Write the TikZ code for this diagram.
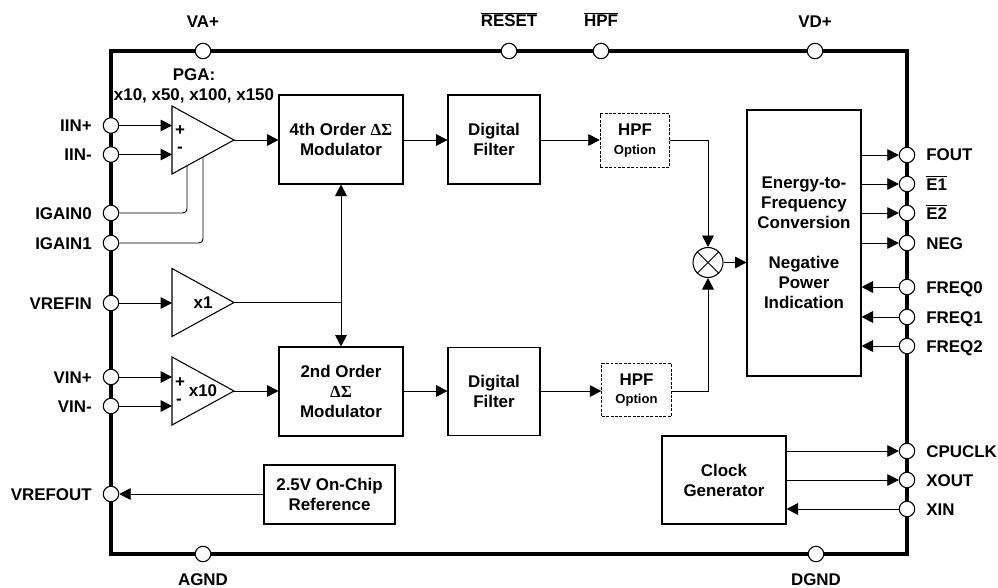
\documentclass[tikz,border=0pt]{standalone}
\usepackage{fontspec}
\setmainfont{Liberation Sans}
\newfontfamily\greekfont{Liberation Serif}
\usetikzlibrary{arrows.meta,shapes.geometric}
\tikzset{
	every node/.style={font=\fontsize{12.7}{15}\selectfont\bfseries, align=center},
	wire/.style={line width=0.7pt, -{Triangle[length=8.6pt,width=8.8pt]}},
	bareline/.style={line width=0.7pt},
	block/.style={draw, line width=0.8pt, inner sep=0pt},
	hpfbox/.style={draw, dashed, dash pattern=on 2.2pt off 1.1pt, line width=0.9pt, inner sep=0pt, minimum width=52pt, minimum height=40pt},
	amp/.style={draw, line width=0.8pt, isosceles triangle, isosceles triangle stretches, anchor=lower side, inner sep=0pt, outer sep=0pt, minimum width=51pt, minimum height=46.5pt},
	pin/.style={draw, circle, fill=white, line width=0.8pt, inner sep=0pt, minimum size=11.6pt},
	pinlabel/.style={inner sep=0pt, text height=9pt, text depth=0pt}
}
\newcommand{\dsig}{{\greekfont ΔΣ}}
\begin{document}
\begin{tikzpicture}[x=0.75pt,y=-0.75pt]
	\useasboundingbox (0,0) rectangle (998,588);

	%chip outline
	\node[draw, line width=2.6pt, inner sep=0pt, minimum width=597pt, minimum height=377.25pt] (chip) at (509,302.5){};

	%top and bottom pins
	\node[pin] (vap) at (203,51){};
	\node[pin] (reset) at (509,51){};
	\node[pin] (hpfpin) at (601,51){};
	\node[pin] (vdp) at (815,51){};
	\node[pin] (agnd) at (203,554){};
	\node[pin] (dgnd) at (816,554){};
	\node[pinlabel] at (203,22){VA+};
	\node[pinlabel] at (509,21){$\overline{\mbox{RESET}}$};
	\node[pinlabel] at (601,21){$\overline{\mbox{HPF}}$};
	\node[pinlabel] at (815,22){VD+};
	\node[pinlabel] at (203,579){AGND};
	\node[pinlabel] at (816,579){DGND};

	%left pins
	\node[pin] (iinp) at (111,125.5){};
	\node[pin] (iinm) at (111,154.5){};
	\node[pin] (igain0) at (111,213){};
	\node[pin] (igain1) at (111,243){};
	\node[pin] (vrefin) at (111,303){};
	\node[pin] (vinp) at (111,377){};
	\node[pin] (vinm) at (111,406){};
	\node[pin] (vrefout) at (111,494){};
	\node[pinlabel, anchor=east] at (92,125.5){IIN+};
	\node[pinlabel, anchor=east] at (92,154.5){IIN-};
	\node[pinlabel, anchor=east] at (92,213){IGAIN0};
	\node[pinlabel, anchor=east] at (92,243){IGAIN1};
	\node[pinlabel, anchor=east] at (92,303){VREFIN};
	\node[pinlabel, anchor=east] at (92,377){VIN+};
	\node[pinlabel, anchor=east] at (92,406){VIN-};
	\node[pinlabel, anchor=east] at (92,494){VREFOUT};

	%right pins
	\node[pin] (fout) at (907,155){};
	\node[pin] (e1) at (907,184){};
	\node[pin] (e2) at (907,213){};
	\node[pin] (neg) at (907,243){};
	\node[pin] (freq0) at (907,287){};
	\node[pin] (freq1) at (907,317){};
	\node[pin] (freq2) at (907,346){};
	\node[pin] (cpuclk) at (907,451){};
	\node[pin] (xout) at (907,480){};
	\node[pin] (xin) at (907,509){};
	\node[pinlabel, anchor=west] at (926,155){FOUT};
	\node[pinlabel, anchor=west] at (926,184){$\overline{\mbox{E1}}$};
	\node[pinlabel, anchor=west] at (926,213){$\overline{\mbox{E2}}$};
	\node[pinlabel, anchor=west] at (926,243){NEG};
	\node[pinlabel, anchor=west] at (926,287){FREQ0};
	\node[pinlabel, anchor=west] at (926,317){FREQ1};
	\node[pinlabel, anchor=west] at (926,346){FREQ2};
	\node[pinlabel, anchor=west] at (926,451){CPUCLK};
	\node[pinlabel, anchor=west] at (926,480){XOUT};
	\node[pinlabel, anchor=west] at (926,509){XIN};

	%amplifiers
	\node[amp] (pga) at (172,140){};
	\node[amp] (x1amp) at (172,302.5){};
	\node[amp] (x10amp) at (172,391){};
	\node[] (pgatext) at (194,85.5){PGA:\\x10, x50, x100, x150};
	\node[] at (180,131){+};
	\node[] at (180,150){-};
	\node[] at (203,303){x1};
	\node[] at (180,383){+};
	\node[] at (179,402){-};
	\node[] at (203,390.5){x10};
	\coordinate (g0) at (187,166);
	\coordinate (g1) at (203,157);

	%blocks
	\node[block, minimum width=93pt, minimum height=66.75pt] (mod4) at (341,139.5){4th Order \dsig\\Modulator};
	\node[block, minimum width=69pt, minimum height=66.75pt] (filt1) at (494,139.5){Digital\\Filter};
	\node[hpfbox] (hpf1) at (635,140.5){HPF\\[-1pt]{\fontsize{9.8}{12}\selectfont Option}};
	\node[block, minimum width=93pt, minimum height=66.75pt] (mod2) at (341,391.5){2nd Order\\\dsig\\Modulator};
	\node[block, minimum width=69pt, minimum height=66pt] (filt2) at (494,391.5){Digital\\Filter};
	\node[hpfbox] (hpf2) at (636.5,390){HPF\\[-1pt]{\fontsize{9.8}{12}\selectfont Option}};
	\node[block, minimum width=85.5pt, minimum height=199.5pt] (energy) at (804,243){Energy-to-\\Frequency\\Conversion\\[15pt]Negative\\Power\\Indication};
	\node[block, minimum width=93pt, minimum height=66pt] (clock) at (724,480){Clock\\Generator};
	\node[block, minimum width=98.25pt, minimum height=44.25pt] (vref) at (329.5,494.5){2.5V On-Chip\\Reference};
	\node[draw, circle, line width=0.8pt, inner sep=0pt, minimum size=22.5pt] (mult) at (708,262.5){};
	\coordinate (junction) at (341,302.5);

	%multiplier cross
	\draw[bareline] (mult.north west) -- (mult.south east);
	\draw[bareline] (mult.north east) -- (mult.south west);

	%current path
	\draw[wire] (iinp.east) -- (iinp.east -| pga.lower side);
	\draw[wire] (iinm.east) -- (iinm.east -| pga.lower side);
	\draw[bareline, rounded corners=3pt] (igain0.east) -| (g0);
	\draw[bareline, rounded corners=3pt] (igain1.east) -| (g1);
	\draw[wire] (pga.apex) -- (pga.apex -| mod4.west);
	\draw[wire] (mod4.east |- pga.apex) -- (pga.apex -| filt1.west);
	\draw[wire] (filt1.east |- pga.apex) -- (pga.apex -| hpf1.west);
	\draw[wire] (hpf1.east |- pga.apex) -| (mult.north);

	%reference path
	\draw[wire] (vrefin.east) -- (vrefin.east -| x1amp.lower side);
	\draw[bareline] (x1amp.apex) -- (junction);
	\draw[wire] (junction) -- (mod4.south);
	\draw[wire] (junction) -- (mod2.north);

	%voltage path
	\draw[wire] (vinp.east) -- (vinp.east -| x10amp.lower side);
	\draw[wire] (vinm.east) -- (vinm.east -| x10amp.lower side);
	\draw[wire] (x10amp.apex) -- (x10amp.apex -| mod2.west);
	\draw[wire] (mod2.east |- x10amp.apex) -- (x10amp.apex -| filt2.west);
	\draw[wire] (filt2.east |- x10amp.apex) -- (x10amp.apex -| hpf2.west);
	\draw[wire] (hpf2.east |- x10amp.apex) -| (mult.south);

	\draw[wire] (mult.east) -- (mult.east -| energy.west);
	\draw[wire] (vrefout.east -| vref.west) -- (vrefout.east);

	%outputs and inputs on the right
	\draw[wire] (energy.east |- fout.west) -- (fout.west);
	\draw[wire] (energy.east |- e1.west) -- (e1.west);
	\draw[wire] (energy.east |- e2.west) -- (e2.west);
	\draw[wire] (energy.east |- neg.west) -- (neg.west);
	\draw[wire] (freq0.west) -- (freq0.west -| energy.east);
	\draw[wire] (freq1.west) -- (freq1.west -| energy.east);
	\draw[wire] (freq2.west) -- (freq2.west -| energy.east);
	\draw[wire] (clock.east |- cpuclk.west) -- (cpuclk.west);
	\draw[wire] (clock.east |- xout.west) -- (xout.west);
	\draw[wire] (xin.west) -- (xin.west -| clock.east);
\end{tikzpicture}
\end{document}
